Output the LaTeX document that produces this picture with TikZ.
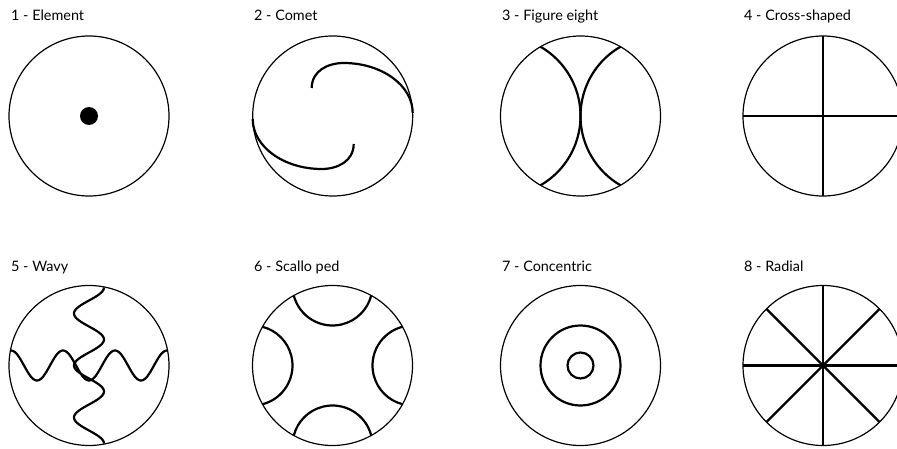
\documentclass[tikz,border=0pt]{standalone}
\usepackage{fontspec}
\setmainfont{Lato}
\usetikzlibrary{calc}
\begin{document}
\begin{tikzpicture}[x=1pt,y=1pt,
  outer/.style={line width=1.2pt},
  inner/.style={line width=2.2pt},
  lbl/.style={anchor=base west, inner sep=0pt, font=\fontsize{14.4}{17}\selectfont}]
\useasboundingbox (0,0) rectangle (897,-449);
\clip (0,0) rectangle (897,-449);
\coordinate (c1) at (89,-116);
\coordinate (c2) at (332.7,-116);
\coordinate (c3) at (580.5,-116);
\coordinate (c4) at (823,-116);
\coordinate (c5) at (89,-365.5);
\coordinate (c6) at (332.5,-365.5);
\coordinate (c7) at (580.5,-365.5);
\coordinate (c8) at (823,-365.5);
% labels
\node[lbl] (l1) at (11,-20.7) {1 - Element};
\node[lbl] (l2) at (254,-20.7) {2 - Comet};
\node[lbl] (l3) at (502,-20.7) {3 - Figure eight};
\node[lbl] (l4) at (744,-20.7) {4 - Cross-shaped};
\node[lbl] (l5) at (11,-271) {5 - Wavy};
\node[lbl] (l6) at (254,-271) {6 - Scallo ped};
\node[lbl] (l7) at (502,-271) {7 - Concentric};
\node[lbl] (l8) at (744,-271) {8 - Radial};
% outer circles
\foreach \c in {c1,c2,c3,c4,c5,c6,c7,c8}
  \draw[outer] (\c) circle[radius=80];
% 1 element
\fill (c1) circle[radius=9];
% 2 comet
\draw[inner, shift={(c2)}] (-21,28) .. controls (-21,45) and (-5,53) .. (11,53)
  .. controls (49,53) and (80,30.6) .. (80,3);
\draw[inner, shift={(c2)}] (21,-28) .. controls (21,-45) and (5,-53) .. (-11,-53)
  .. controls (-49,-53) and (-80,-30.6) .. (-80,-3);
% 3 figure eight
\draw[inner, shift={(c3)}] (-80,0) ++(-60:80) arc[start angle=-60, end angle=60, radius=80];
\draw[inner, shift={(c3)}] (80,0) ++(120:80) arc[start angle=120, end angle=240, radius=80];
% 4 cross
\draw[inner, shift={(c4)}] (-80,0) -- (80,0);
\draw[inner, shift={(c4)}] (0,-80) -- (0,80);
% 5 wavy
\draw[inner, shift={(c5)}] plot[domain=-78:78, samples=121, smooth] (\x, {15*cos(6.923077*(\x+78))});
\draw[inner, shift={(c5)}] plot[domain=-78:78, samples=121, smooth] ({15*cos(6.923077*(\x+78))}, -\x);
% 6 scalloped
\foreach \d in {0,90,180,270}
  \draw[inner, shift={(c6)}] (\d:80) ++(\d+104.48:40) arc[start angle=\d+104.48, end angle=\d+255.52, radius=40];
% 7 concentric
\draw[inner] (c7) circle[radius=40];
\draw[inner] (c7) circle[radius=13];
% 8 radial
\foreach \a in {0,45,90,135}
  \draw[inner, shift={(c8)}] (\a:80) -- (\a+180:80);
\end{tikzpicture}
\end{document}
